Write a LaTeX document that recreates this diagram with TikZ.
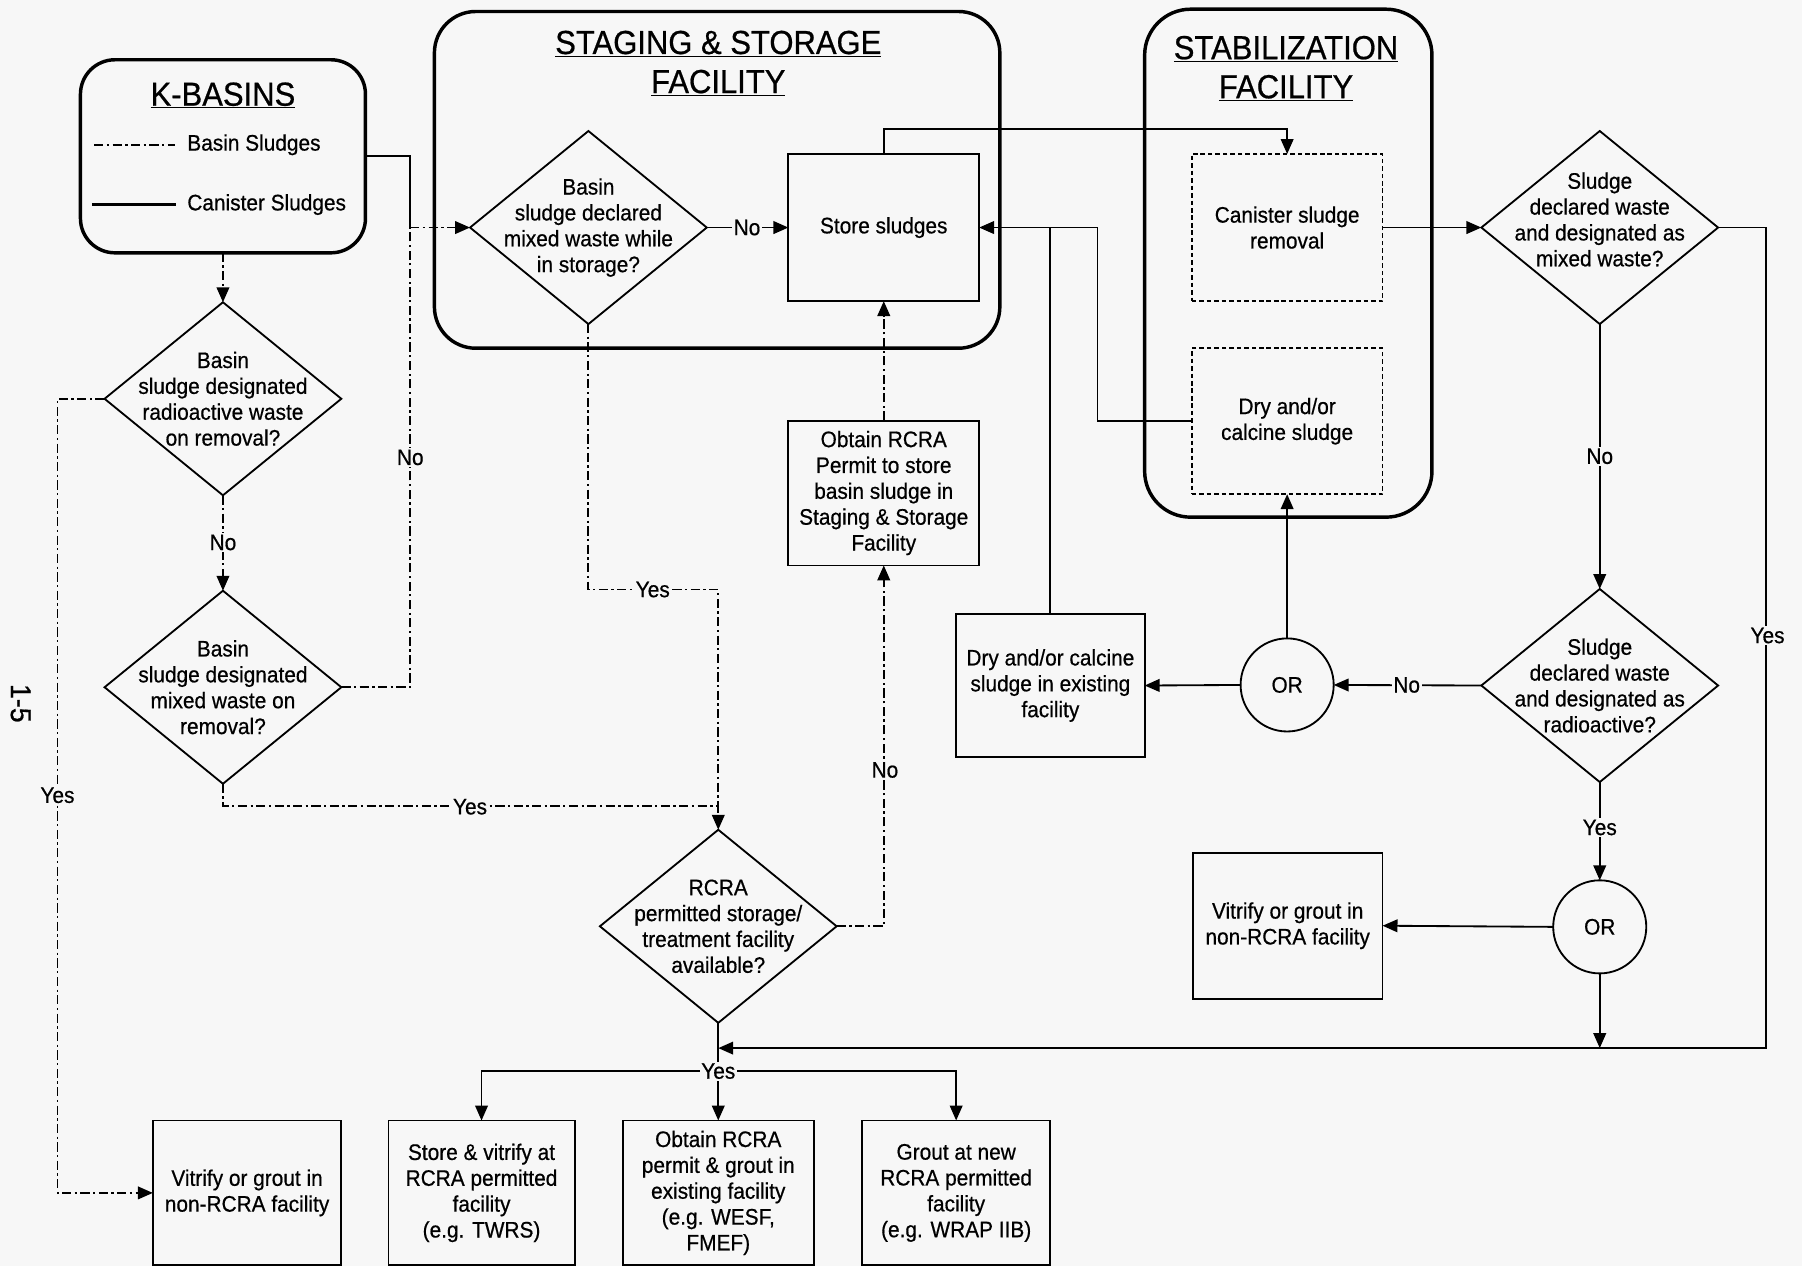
\documentclass[tikz,border=0pt]{standalone}
\usepackage{fontspec}
\setmainfont{Liberation Sans}[FakeStretch=0.93,FakeBold=0.6]
\usetikzlibrary{shapes.geometric,arrows.meta}
\definecolor{bg}{RGB}{247,247,247}
\begin{document}
\begin{tikzpicture}[x=1pt,y=-1pt,
  every node/.style={font=\fontsize{19.5}{22.5}\selectfont, inner sep=0pt, outer sep=0pt},
  ln/.style={line width=1.6pt, black},
  ddl/.style={ln, dash pattern=on 8pt off 3pt on 2pt off 3pt},
  arr/.style={-{Triangle[length=13pt,width=11pt]}},
  boxn/.style={draw, line width=1.6pt, align=center, minimum width=166pt, minimum height=127pt},
  dboxn/.style={boxn, line width=1.4pt, dash pattern=on 4pt off 2.5pt},
  dia/.style={diamond, draw, line width=1.6pt, minimum width=206pt, minimum height=168pt},
  txt/.style={align=center},
  orc/.style={circle, draw, line width=1.6pt, minimum size=81pt},
  cont/.style={draw, line width=3pt},
  ttl/.style={font=\fontsize{29}{34}\selectfont, align=center},
  lbl/.style={fill=bg, inner sep=1.5pt},
]
\useasboundingbox (0,0) rectangle (1568,1102);
\fill[bg] (0,0) rectangle (1568,1102);

% containers
\node[cont, rounded corners=30pt, minimum width=248pt, minimum height=168pt] (kb) at (194,136) {};
\node[cont, rounded corners=36pt, minimum width=492pt, minimum height=293pt] (sf) at (624,156.5) {};
\node[cont, rounded corners=40pt, minimum width=250pt, minimum height=442pt] (sb) at (1121,229) {};

\node[ttl] (kbt) at (194,83) {\underline{K-BASINS}};
\node[ttl] (sft) at (625,55) {\underline{STAGING \& STORAGE}\\\underline{FACILITY}};
\node[ttl] (sbt) at (1119,59.5) {\underline{STABILIZATION}\\\underline{FACILITY}};

% legend
\coordinate (lg1a) at (82,126); \coordinate (lg1b) at (152,126);
\coordinate (lg2a) at (80,178); \coordinate (lg2b) at (153,178);
\draw[ddl] (lg1a) -- (lg1b);
\draw[ln, line width=2pt] (lg2a) -- (lg2b);
\node[anchor=west] (lgt1) at (163,126) {Basin Sludges};
\node[anchor=west] (lgt2) at (163,178) {Canister Sludges};

% diamonds
\node[dia] (k1) at (194,347) {};
\node[txt] (k1t) at (194,347) {Basin\\sludge designated\\radioactive waste\\on removal?};
\node[dia] (k2) at (194,598) {};
\node[txt] (k2t) at (194,598) {Basin\\sludge designated\\mixed waste on\\removal?};
\node[dia] (d1) at (512,198) {};
\node[txt] (d1t) at (512,198) {Basin\\sludge declared\\mixed waste while\\in storage?};
\node[dia] (dm) at (1392,198) {};
\node[txt] (dmt) at (1392,191) {Sludge\\declared waste\\and designated as\\mixed waste?};
\node[dia] (dr) at (1392,596.5) {};
\node[txt] (drt) at (1392,596.5) {Sludge\\declared waste\\and designated as\\radioactive?};
\node[dia] (rc) at (625,806) {};
\node[txt] (rct) at (625,806) {RCRA\\permitted storage/\\treatment facility\\available?};

% boxes
\node[boxn, minimum height=128pt] (ss) at (769,198) {Store sludges};
\node[dboxn, minimum height=128pt] (cs) at (1120,198) {Canister sludge\\removal};
\node[dboxn] (dc) at (1120,366.5) {Dry and/or\\calcine sludge};
\node[boxn, minimum height=126pt] (ob) at (769,429) {Obtain RCRA\\Permit to store\\basin sludge in\\Staging \& Storage\\Facility};
\node[boxn, minimum width=164pt, minimum height=125pt] (de) at (914,596.5) {Dry and/or calcine\\sludge in existing\\facility};
\node[boxn, minimum width=165pt] (vr) at (1120.5,805.5) {Vitrify or grout in\\non-RCRA facility};
\node[boxn, minimum width=164pt, minimum height=126pt] (b0) at (215,1038) {Vitrify or grout in\\non-RCRA facility};
\node[boxn, minimum width=162pt, minimum height=126pt] (b1) at (419,1038) {Store \& vitrify at\\RCRA permitted\\facility\\(e.g. TWRS)};
\node[boxn, minimum width=166pt, minimum height=126pt] (b2) at (625,1038) {Obtain RCRA\\permit \& grout in\\existing facility\\(e.g. WESF,\\FMEF)};
\node[boxn, minimum width=164pt, minimum height=126pt] (b3) at (832,1038) {Grout at new\\RCRA permitted\\facility\\(e.g. WRAP IIB)};

% OR circles
\node[orc] (or1) at (1120,596) {OR};
\node[orc] (or2) at (1392,806.5) {OR};

% junctions
\coordinate (j1) at (357,198);
\coordinate (j2) at (625,702);
\coordinate (j3) at (625,912);
\coordinate (j4) at (955,198);
\coordinate (j5) at (625,932);
\coordinate (kc) at (50,347);
\coordinate (ya) at (625,513);

% connectors - basin sludge (dash-dot)
\draw[ddl,arr] (kb.south) -- (k1.north);
\draw[ddl,arr] (k1.south) -- (k2.north);
\draw[ddl,arr] (k1.west) -- (kc) |- (b0.west);
\draw[ddl] (k2.east) -| (j1);
\draw[ln] (kb.east) -| (j1);
\draw[ddl,arr] (j1) -- (d1.west);
\draw[ddl,arr] (k2.south) -- ++(0,19) -| (rc.north);
\draw[ddl] (d1.south) |- (ya) -- (j2);
\draw[ddl,arr] (rc.east) -| (ob.south);
\draw[ddl,arr] (ob.north) -- (ss.south);

% connectors - solid
\draw[ln,arr] (d1.east) -- (ss.west);
\draw[ln,arr] (ss.north) -- ++(0,-22) -| (cs.north);
\draw[ln,arr] (cs.east) -- (dm.west);
\draw[ln,arr] (dm.south) -- (dr.north);
\draw[ln,arr] (dm.east) -- ++(42,0) |- (j3);
\draw[ln,arr] (dr.west) -- (or1.east);
\draw[ln,arr] (or1.west) -- (de.east);
\draw[ln,arr] (or1.north) -- (dc.south);
\draw[ln,arr] (de.north) |- (ss.east);
\draw[ln] (dc.west) -| (j4) -- (de.north |- j4);
\draw[ln,arr] (dr.south) -- (or2.north);
\draw[ln,arr] (or2.west) -- (vr.east);
\draw[ln,arr] (or2.south) -- (or2.south |- j3);
\draw[ln] (rc.south) -- (j5);
\draw[ln,arr] (j5) -- (b2.north);
\draw[ln,arr] (j5) -| (b1.north);
\draw[ln,arr] (j5) -| (b3.north);

% labels
\node[lbl] (l1) at (357,398) {No};
\node[lbl] (l2) at (194,472) {No};
\node[lbl] (l3) at (50,692) {Yes};
\node[lbl] (l4) at (409,702) {Yes};
\node[lbl] (l5) at (568,513) {Yes};
\node[lbl] (l6) at (650,198) {No};
\node[lbl] (l7) at (770,670) {No};
\node[lbl] (l8) at (1392,397) {No};
\node[lbl] (l9) at (1538,553) {Yes};
\node[lbl] (l10) at (1224,596) {No};
\node[lbl] (l11) at (1392,720) {Yes};
\node[lbl] (l12) at (625,932) {Yes};

% page number
\node[font=\fontsize{25}{25}\selectfont, rotate=-90] (pg) at (18,612) {1-5};
\end{tikzpicture}
\end{document}
